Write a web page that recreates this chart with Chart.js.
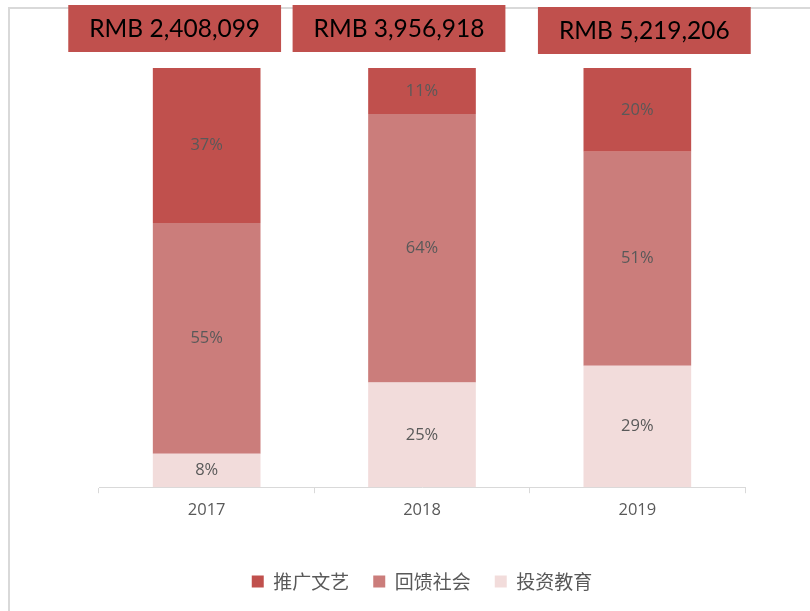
<!DOCTYPE html>
<html>
<head>
<meta charset="utf-8">
<script src="https://cdn.jsdelivr.net/npm/chart.js@4/dist/chart.umd.min.js"></script>
<style>
  html, body { margin: 0; padding: 0; background: #fff; }
  #wrap { position: relative; width: 810px; height: 611px; }
</style>
</head>
<body>
<div id="wrap"><canvas id="idCanv_donation"></canvas></div>
<script>
const years = ["2017", "2018", "2019"];
const totals = ["RMB 2,408,099", "RMB 3,956,918", "RMB 5,219,206"];
const seriesNames = ["投资教育", "回馈社会", "推广文艺"];
const shareEducation = [8, 25, 29];
const shareSociety = [55, 64, 51];
const shareCulture = [37, 11, 20];

const colors = {
  culture: "#C0504D",
  society: "#CB7D7B",
  education: "#F2DCDB",
  text: "#595959",
  line: "#D9D9D9",
};

// shift of each total box from its bar centre, and its top edge
const totalBoxShift = [-32, -23, 7];
const totalBoxTop = [5, 5, 7];

const frameBorder = {
  id: "frameBorder",
  beforeDraw(chart) {
    const ctx = chart.ctx;
    ctx.save();
    ctx.strokeStyle = colors.line;
    ctx.lineWidth = 2;
    ctx.strokeRect(9, 8, 900, 700);
    ctx.restore();
  },
};

const segmentLabels = {
  id: "segmentLabels",
  afterDatasetsDraw(chart) {
    const ctx = chart.ctx;
    ctx.save();
    ctx.font = "16.5px 'Open Sans', 'Noto Sans', sans-serif";
    ctx.fillStyle = colors.text;
    ctx.textAlign = "center";
    ctx.textBaseline = "middle";
    chart.data.datasets.forEach((ds, i) => {
      chart.getDatasetMeta(i).data.forEach((bar, j) => {
        const mid = (bar.y + bar.base) / 2;
        ctx.fillText(`${ds.data[j]}%`, bar.x, mid);
      });
    });
    ctx.restore();
  },
};

const totalBoxes = {
  id: "totalBoxes",
  afterDraw(chart) {
    const ctx = chart.ctx;
    const meta = chart.getDatasetMeta(0);
    ctx.save();
    ctx.font = "24.5px Lato, 'Open Sans', sans-serif";
    ctx.textAlign = "center";
    ctx.textBaseline = "middle";
    totals.forEach((text, j) => {
      const cx = meta.data[j].x + totalBoxShift[j];
      const w = ctx.measureText(text).width + 42;
      const h = 47;
      ctx.fillStyle = colors.culture;
      ctx.fillRect(cx - w / 2, totalBoxTop[j], w, h);
      ctx.fillStyle = "#000";
      ctx.fillText(text, cx, totalBoxTop[j] + h / 2 + 1);
    });
    ctx.restore();
  },
};

const donationChart = {
  config: {
    type: "bar",
    data: {
      labels: years,
      datasets: [
        { label: seriesNames[0], data: shareEducation, backgroundColor: colors.education },
        { label: seriesNames[1], data: shareSociety, backgroundColor: colors.society },
        { label: seriesNames[2], data: shareCulture, backgroundColor: colors.culture },
      ],
    },
    options: {
      responsive: false,
      animation: false,
      layout: {
        padding: { top: 68, left: 99, right: 65, bottom: 10 },
      },
      datasets: {
        bar: {
          categoryPercentage: 1,
          barPercentage: 0.5,
          borderWidth: 0,
        },
      },
      plugins: {
        legend: {
          position: "bottom",
          reverse: true,
          labels: {
            boxWidth: 12,
            boxHeight: 12,
            padding: 24,
            color: colors.text,
            font: { size: 19, family: "'Noto Sans CJK SC', sans-serif" },
          },
        },
        tooltip: { enabled: false },
      },
      scales: {
        x: {
          stacked: true,
          afterFit: (axis) => {
            axis.height += 21;
          },
          grid: {
            offset: true,
            drawOnChartArea: false,
            drawTicks: true,
            tickLength: 6,
            color: colors.line,
          },
          border: { display: true, color: colors.line, width: 1 },
          ticks: {
            color: colors.text,
            padding: 7,
            font: { size: 16.5, family: "'Open Sans', 'Noto Sans', sans-serif" },
          },
        },
        y: {
          stacked: true,
          display: false,
          min: 0,
          max: 100,
        },
      },
    },
    plugins: [frameBorder, segmentLabels, totalBoxes],
  },
  canvas: null,
};

const el = document.getElementById("idCanv_donation");
el.width = 810;
el.height = 611;
donationChart.canvas = new Chart(el, donationChart.config);
</script>
</body>
</html>
